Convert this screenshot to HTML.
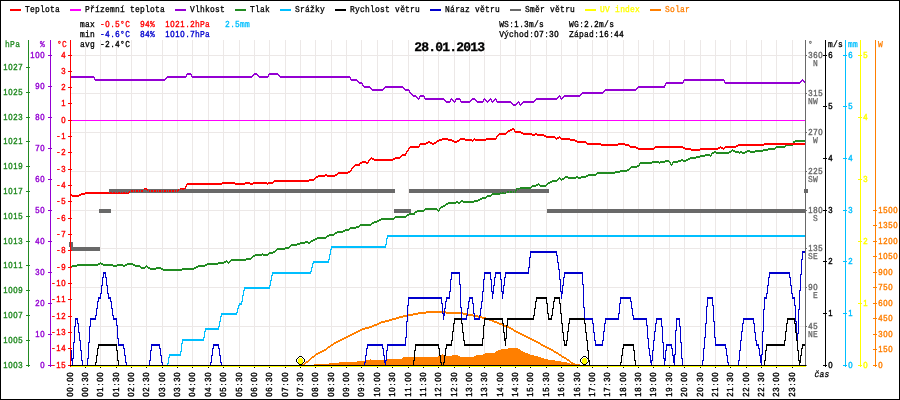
<!DOCTYPE html>
<html lang="cs">
<head>
<meta charset="utf-8">
<title>Meteostanice 28.01.2013</title>
<style>
html,body{margin:0;padding:0;background:#fff;}
body{width:900px;height:400px;overflow:hidden;}
svg{display:block;}
text{font-family:"Liberation Mono","DejaVu Sans Mono",monospace;white-space:pre;stroke-width:0.3px;shape-rendering:auto;text-rendering:geometricPrecision;}
.t{font-size:9px;}
.s{font-family:"Liberation Sans","DejaVu Sans",sans-serif;font-size:8.8px;stroke-width:0.4px;}
.h{font-size:13px;font-weight:bold;letter-spacing:-0.8px;}
</style>
</head>
<body>
<svg width="900" height="400" viewBox="0 0 900 400" shape-rendering="crispEdges" role="img" aria-label="Meteostanice - denní graf 28.01.2013">
<rect x="0" y="0" width="900" height="400" fill="#fff"/>
<g id="grid">
<rect x="85" y="40" width="1" height="326" fill="#ece8e7"/>
<rect x="100" y="40" width="1" height="326" fill="#ece8e7"/>
<rect x="116" y="40" width="1" height="326" fill="#ece8e7"/>
<rect x="131" y="40" width="1" height="326" fill="#ece8e7"/>
<rect x="146" y="40" width="1" height="326" fill="#ece8e7"/>
<rect x="162" y="40" width="1" height="326" fill="#ece8e7"/>
<rect x="177" y="40" width="1" height="326" fill="#ece8e7"/>
<rect x="192" y="40" width="1" height="326" fill="#ece8e7"/>
<rect x="208" y="40" width="1" height="326" fill="#ece8e7"/>
<rect x="223" y="40" width="1" height="326" fill="#ece8e7"/>
<rect x="239" y="40" width="1" height="326" fill="#ece8e7"/>
<rect x="254" y="40" width="1" height="326" fill="#ece8e7"/>
<rect x="269" y="40" width="1" height="326" fill="#ece8e7"/>
<rect x="285" y="40" width="1" height="326" fill="#ece8e7"/>
<rect x="300" y="40" width="1" height="326" fill="#ece8e7"/>
<rect x="315" y="40" width="1" height="326" fill="#ece8e7"/>
<rect x="331" y="40" width="1" height="326" fill="#ece8e7"/>
<rect x="346" y="40" width="1" height="326" fill="#ece8e7"/>
<rect x="361" y="40" width="1" height="326" fill="#ece8e7"/>
<rect x="377" y="40" width="1" height="326" fill="#ece8e7"/>
<rect x="392" y="40" width="1" height="326" fill="#ece8e7"/>
<rect x="408" y="40" width="1" height="326" fill="#ece8e7"/>
<rect x="423" y="40" width="1" height="326" fill="#ece8e7"/>
<rect x="438" y="40" width="1" height="326" fill="#ece8e7"/>
<rect x="454" y="40" width="1" height="326" fill="#ece8e7"/>
<rect x="469" y="40" width="1" height="326" fill="#ece8e7"/>
<rect x="484" y="40" width="1" height="326" fill="#ece8e7"/>
<rect x="500" y="40" width="1" height="326" fill="#ece8e7"/>
<rect x="515" y="40" width="1" height="326" fill="#ece8e7"/>
<rect x="530" y="40" width="1" height="326" fill="#ece8e7"/>
<rect x="546" y="40" width="1" height="326" fill="#ece8e7"/>
<rect x="561" y="40" width="1" height="326" fill="#ece8e7"/>
<rect x="577" y="40" width="1" height="326" fill="#ece8e7"/>
<rect x="592" y="40" width="1" height="326" fill="#ece8e7"/>
<rect x="607" y="40" width="1" height="326" fill="#ece8e7"/>
<rect x="623" y="40" width="1" height="326" fill="#ece8e7"/>
<rect x="638" y="40" width="1" height="326" fill="#ece8e7"/>
<rect x="653" y="40" width="1" height="326" fill="#ece8e7"/>
<rect x="669" y="40" width="1" height="326" fill="#ece8e7"/>
<rect x="684" y="40" width="1" height="326" fill="#ece8e7"/>
<rect x="700" y="40" width="1" height="326" fill="#ece8e7"/>
<rect x="715" y="40" width="1" height="326" fill="#ece8e7"/>
<rect x="730" y="40" width="1" height="326" fill="#ece8e7"/>
<rect x="746" y="40" width="1" height="326" fill="#ece8e7"/>
<rect x="761" y="40" width="1" height="326" fill="#ece8e7"/>
<rect x="776" y="40" width="1" height="326" fill="#ece8e7"/>
<rect x="792" y="40" width="1" height="326" fill="#ece8e7"/>
<rect x="70" y="326" width="737" height="1" fill="#ece8e7"/>
<rect x="70" y="287" width="737" height="1" fill="#ece8e7"/>
<rect x="70" y="248" width="737" height="1" fill="#ece8e7"/>
<rect x="70" y="210" width="737" height="1" fill="#ece8e7"/>
<rect x="70" y="171" width="737" height="1" fill="#ece8e7"/>
<rect x="70" y="132" width="737" height="1" fill="#ece8e7"/>
<rect x="70" y="93" width="737" height="1" fill="#ece8e7"/>
<rect x="70" y="55" width="737" height="1" fill="#ece8e7"/>
</g>
<g id="series">
<polygon points="314.0,365.0 314.0,364.3 328.5,364.3 328.7,363.4 339.0,363.4 339.3,362.3 356.5,362.3 356.7,361.3 364.7,360.7 370.0,359.4 374.0,360.0 383.3,360.0 386.0,359.4 400.0,359.4 402.0,359.0 403.3,357.0 437.3,357.0 440.0,355.4 442.7,354.0 445.3,356.0 450.7,356.0 453.3,355.0 457.3,355.4 460.0,356.7 473.3,357.0 476.0,355.4 482.7,354.6 485.3,353.4 493.3,353.4 497.3,350.6 501.3,349.4 506.7,349.4 509.3,348.0 512.0,347.7 516.0,347.7 518.7,349.0 522.7,351.4 526.7,353.0 530.7,354.6 536.0,356.0 540.0,357.0 545.3,359.0 550.7,360.0 556.0,360.7 562.7,361.7 568.0,362.7 572.0,364.0 581.0,364.6 581.0,365.0" fill="#ff7f00"/>
<rect x="69" y="242" width="4" height="5" fill="#696969"/>
<rect x="71" y="247" width="29" height="4" fill="#696969"/>
<rect x="99" y="209" width="12" height="4" fill="#696969"/>
<rect x="109" y="189" width="286" height="4" fill="#696969"/>
<rect x="394" y="209" width="17" height="4" fill="#696969"/>
<rect x="409" y="189" width="140" height="4" fill="#696969"/>
<rect x="547" y="209" width="258" height="4" fill="#696969"/>
<rect x="804" y="189" width="4" height="4" fill="#696969"/>
<path d="M302 364.5h3M302 365.5h2M304 363.5h2M305 362.5h3M306 361.5h3M308 360.5h2M309 359.5h2M310 358.5h2M311 357.5h3M312 356.5h3M314 355.5h2M315 354.5h3M316 353.5h4M318 352.5h4M320 351.5h4M322 350.5h4M324 349.5h3M326 348.5h2M327 347.5h3M328 346.5h3M330 345.5h3M331 344.5h3M333 343.5h3M334 342.5h4M336 341.5h4M338 340.5h4M340 339.5h4M342 338.5h4M344 337.5h4M346 336.5h4M348 335.5h4M350 334.5h4M352 333.5h4M354 332.5h4M356 331.5h4M358 330.5h4M360 329.5h5M362 328.5h7M365 327.5h7M369 326.5h5M372 325.5h5M374 324.5h5M377 323.5h4M379 322.5h6M381 321.5h8M385 320.5h7M389 319.5h7M392 318.5h7M396 317.5h7M399 316.5h9M403 315.5h10M408 314.5h10M413 313.5h13M418 312.5h45M426 311.5h20M446 313.5h22M463 314.5h10M468 315.5h10M473 316.5h9M478 317.5h8M482 318.5h7M486 319.5h6M489 320.5h5M492 321.5h5M494 322.5h5M497 323.5h5M499 324.5h5M502 325.5h5M504 326.5h5M507 327.5h4M509 328.5h4M511 329.5h3M513 330.5h3M514 331.5h4M516 332.5h4M518 333.5h4M520 334.5h4M522 335.5h4M524 336.5h4M526 337.5h4M528 338.5h4M530 339.5h4M532 340.5h4M534 341.5h4M536 342.5h4M538 343.5h3M540 344.5h3M541 345.5h4M543 346.5h4M545 347.5h4M547 348.5h4M549 349.5h4M551 350.5h3M553 351.5h3M554 352.5h4M556 353.5h3M558 354.5h3M559 355.5h3M561 356.5h3M562 357.5h4M564 358.5h3M566 359.5h3M567 360.5h3M569 361.5h2M570 362.5h3M571 363.5h4M573 364.5h3M575.5 365v1" fill="none" stroke="#ff7f00" stroke-width="1"/>
<path d="M167 363.5h2M168 357.5h2M169 354.5h12M169 355.5h12M180 351.5h2M181 343.5h2M182 339.5h22M182 340.5h22M203 337.5h2M204 331.5h2M205 328.5h14M205 329.5h14M218 326.5h2M219 321.5h2M220 316.5h2M221 313.5h16M221 314.5h16M236 312.5h2M237 308.5h2M238 305.5h2M239 303.5h3M239 304.5h3M241 301.5h2M242 295.5h2M243 290.5h2M244 287.5h26M244 288.5h26M269 285.5h2M270 280.5h2M271 275.5h2M272 272.5h39M272 273.5h39M310 271.5h2M311 267.5h2M312 263.5h2M313 261.5h16M313 262.5h16M328 259.5h2M329 254.5h2M330 249.5h2M331 246.5h55M331 247.5h55M385 244.5h2M386 238.5h2M387 235.5h419M387 236.5h419M167.5 364v3M168.5 358v5M169.5 356v1M180.5 352v2M181.5 344v7M182.5 341v2M203.5 338v1M204.5 332v5M205.5 330v1M218.5 327v1M219.5 322v4M220.5 317v4M221.5 315v1M237.5 309v3M238.5 306v2M241.5 302v1M242.5 296v5M243.5 291v4M244.5 289v1M269.5 286v1M270.5 281v4M271.5 276v4M272.5 274v1M311.5 268v3M312.5 264v3M328.5 260v1M329.5 255v4M330.5 250v4M331.5 248v1M385.5 245v1M386.5 239v5M387.5 237v1" fill="none" stroke="#00bfff" stroke-width="1"/>
<path d="M70 76.5h24M70 77.5h25M94 79.5h72M95 80.5h70M165 78.5h2M166 77.5h20M167 76.5h20M186 74.5h6M187 73.5h4M191 76.5h62M192 77.5h60M252 75.5h2M253 74.5h5M254 73.5h3M257 75.5h2M258 76.5h11M259 77.5h9M268 74.5h11M269 73.5h9M278 75.5h2M279 76.5h71M280 77.5h71M350 79.5h7M351 80.5h7M357 81.5h2M358 82.5h4M359 83.5h4M362 85.5h2M363 86.5h7M364 87.5h7M370 88.5h2M371 89.5h13M372 90.5h11M383 88.5h2M384 87.5h20M385 86.5h18M403 88.5h2M404 89.5h5M405 90.5h5M409 92.5h2M410 93.5h2M411 94.5h2M412 95.5h4M413 96.5h4M416 97.5h2M417 98.5h3M419 96.5h6M420 95.5h4M424 98.5h20M425 99.5h20M444 100.5h2M445 101.5h6M446 102.5h4M450 99.5h3M452 100.5h2M453 101.5h3M455 99.5h6M456 98.5h4M460 101.5h11M461 102.5h9M470 100.5h2M471 99.5h5M472 98.5h3M475 100.5h2M476 101.5h8M477 102.5h6M483 99.5h3M485 100.5h2M486 101.5h3M488 100.5h2M489 99.5h3M491 101.5h3M493 100.5h2M494 99.5h3M496 101.5h15M497 102.5h15M511 103.5h2M512 104.5h5M513 105.5h3M516 103.5h2M517 102.5h3M519 104.5h3M521 103.5h2M522 102.5h12M523 101.5h12M534 100.5h2M535 99.5h22M536 98.5h22M557 97.5h2M558 96.5h3M560 98.5h3M562 97.5h2M563 96.5h17M564 95.5h17M580 94.5h2M581 93.5h22M582 92.5h22M603 91.5h2M604 90.5h32M605 89.5h32M636 88.5h2M637 87.5h28M638 86.5h27M664 85.5h2M665 83.5h18M666 82.5h18M683 80.5h42M684 79.5h40M724 82.5h77M725 83.5h75M800 81.5h2M801 80.5h3M803 81.5h2M804 82.5h2M94.5 78v1M186.5 75v1M191.5 75v1M268.5 75v1M350.5 78v1M362.5 84v1M409.5 91v1M418.5 99v1M419.5 97v1M424.5 97v1M450.5 100v1M451.5 98v1M454.5 102v1M455.5 100v1M460.5 100v1M483.5 100v1M484.5 98v1M487.5 102v1M490.5 98v1M491.5 100v1M492.5 102v1M495.5 98v1M496.5 100v1M518.5 101v1M519.5 103v1M520.5 105v1M559.5 95v1M560.5 97v1M561.5 99v1M665.5 84v1M683.5 81v1M724.5 81v1M802.5 79v1M805.5 83v1" fill="none" stroke="#9400d3" stroke-width="1"/>
<rect x="70" y="120" width="736" height="1" fill="#ff00ff"/>
<path d="M70 266.5h7M70 267.5h2M72 265.5h26M77 264.5h23M98 263.5h5M101 264.5h12M103 265.5h24M113 266.5h4M117 264.5h6M123 266.5h2M125 264.5h10M127 263.5h6M133 265.5h7M135 266.5h6M140 267.5h6M141 268.5h4M145 266.5h3M147 267.5h3M148 268.5h15M150 269.5h6M156 267.5h5M161 269.5h33M163 270.5h19M182 268.5h14M194 267.5h4M196 266.5h9M198 265.5h9M205 264.5h13M207 263.5h17M218 262.5h8M224 261.5h4M227 262.5h3M229 261.5h2M230 260.5h16M231 259.5h20M246 258.5h6M251 257.5h2M252 256.5h3M253 255.5h9M255 254.5h14M263 255.5h5M268 253.5h5M269 252.5h6M273 251.5h3M275 250.5h2M276 249.5h9M277 248.5h12M285 247.5h5M289 246.5h2M290 245.5h7M291 244.5h9M297 243.5h8M300 242.5h11M305 241.5h3M308 243.5h2M310 241.5h3M311 240.5h4M313 239.5h4M315 238.5h11M317 237.5h10M326 236.5h3M327 235.5h7M329 234.5h6M334 233.5h3M335 232.5h8M337 231.5h8M343 230.5h6M345 229.5h5M349 228.5h7M350 227.5h9M356 226.5h4M359 225.5h12M360 224.5h12M371 223.5h3M372 222.5h5M374 221.5h5M377 220.5h4M379 219.5h15M381 218.5h14M394 217.5h12M395 216.5h12M406 215.5h3M407 214.5h8M409 213.5h6M414 212.5h3M415 211.5h9M417 210.5h8M424 209.5h14M425 208.5h12M437 210.5h3M439 208.5h2M440 207.5h3M441 206.5h4M443 205.5h3M445 204.5h3M446 203.5h10M448 202.5h13M456 201.5h2M458 203.5h2M460 201.5h18M461 200.5h2M463 202.5h11M474 200.5h6M478 199.5h4M480 198.5h6M482 197.5h5M486 196.5h5M487 195.5h5M491 194.5h9M492 193.5h14M500 192.5h16M506 191.5h10M515 190.5h2M516 188.5h15M516 189.5h4M520 187.5h12M531 186.5h5M532 185.5h6M536 184.5h4M539 185.5h8M540 186.5h6M546 184.5h2M547 183.5h3M548 182.5h4M550 181.5h7M552 180.5h6M557 179.5h2M558 178.5h3M560 179.5h4M562 178.5h3M564 177.5h22M565 176.5h3M568 178.5h8M576 176.5h2M578 178.5h3M581 176.5h7M586 175.5h10M588 174.5h9M596 173.5h19M597 172.5h23M615 171.5h12M620 170.5h9M627 169.5h3M629 168.5h2M630 167.5h7M631 166.5h8M637 165.5h3M639 163.5h13M640 162.5h25M652 161.5h7M660 161.5h10M665 160.5h4M669 162.5h2M670 164.5h3M672 162.5h6M673 161.5h8M678 160.5h10M681 159.5h2M683 161.5h3M686 159.5h4M688 158.5h8M690 157.5h10M696 156.5h9M700 155.5h12M705 154.5h5M711 153.5h3M712 152.5h19M714 151.5h2M716 153.5h13M729 151.5h3M731 150.5h4M733 151.5h6M735 152.5h12M740 151.5h2M742 153.5h3M745 151.5h18M747 150.5h3M750 152.5h5M755 150.5h13M763 149.5h12M768 148.5h8M775 147.5h10M776 146.5h10M785 145.5h8M786 144.5h7M792 143.5h2M793 141.5h12M793 142.5h2M795 140.5h11M100.5 262v1M146.5 265v1M226.5 260v1M228.5 263v1M262.5 253v1M438.5 211v1M439.5 209v1M538.5 183v1M559.5 177v1M561.5 180v1M639.5 164v1M659.5 163v1M670.5 163v1M671.5 165v1M672.5 163v1M710.5 156v1M711.5 154v1M732.5 149v1M739.5 153v1M805.5 139v1" fill="none" stroke="#228b22" stroke-width="1"/>
<path d="M70 194.5h2M71 195.5h10M72 196.5h7M79 194.5h6M81 193.5h48M85 192.5h45M129 191.5h14M130 190.5h14M143 189.5h5M144 188.5h3M147 190.5h33M148 191.5h30M178 189.5h7M180 188.5h6M185 186.5h2M186 184.5h36M187 183.5h86M222 182.5h13M235 184.5h10M245 182.5h5M250 184.5h3M253 182.5h14M268 182.5h6M273 181.5h36M274 180.5h40M309 179.5h6M314 178.5h2M315 177.5h3M316 176.5h9M318 175.5h19M325 174.5h2M327 176.5h8M335 174.5h3M337 173.5h11M338 172.5h12M348 171.5h3M350 170.5h2M351 168.5h2M352 167.5h2M353 166.5h2M354 165.5h6M355 164.5h5M359 163.5h3M360 162.5h9M362 161.5h4M366 163.5h2M368 160.5h2M369 159.5h2M370 158.5h4M372 159.5h23M374 160.5h19M393 158.5h7M395 157.5h6M400 156.5h2M401 155.5h5M402 154.5h4M405 153.5h2M406 151.5h2M407 150.5h2M408 148.5h2M409 147.5h10M410 146.5h10M419 144.5h7M420 143.5h8M426 142.5h6M428 141.5h2M430 143.5h6M432 144.5h2M434 142.5h3M436 141.5h3M437 140.5h5M439 139.5h13M442 138.5h6M448 140.5h6M452 141.5h7M454 142.5h3M457 140.5h3M459 139.5h13M460 138.5h5M465 140.5h9M473 139.5h23M475 140.5h11M486 138.5h11M496 136.5h2M497 135.5h2M498 134.5h8M499 133.5h8M506 132.5h2M507 131.5h3M508 130.5h4M510 129.5h5M512 128.5h2M514 131.5h7M515 132.5h8M521 133.5h11M523 134.5h21M532 135.5h3M535 133.5h2M537 135.5h9M544 136.5h11M546 137.5h10M555 138.5h4M557 137.5h4M560 138.5h10M561 139.5h14M570 140.5h7M575 141.5h11M577 142.5h10M586 143.5h15M587 144.5h42M601 145.5h17M618 143.5h7M625 145.5h5M629 146.5h7M630 147.5h8M636 148.5h19M638 149.5h16M654 147.5h31M655 146.5h28M683 148.5h8M685 149.5h33M691 150.5h9M700 148.5h20M718 147.5h5M721 148.5h4M724 147.5h12M725 146.5h13M736 145.5h28M738 144.5h68M764 143.5h42M70.5 193v1M185.5 187v1M186.5 185v1M267.5 184v1M351.5 169v1M368.5 161v1M371.5 157v1M406.5 152v1M408.5 149v1M419.5 145v1M472.5 141v1M474.5 138v1M496.5 137v1M514.5 130v1M556.5 139v1M559.5 136v1M720.5 146v1M723.5 149v1" fill="none" stroke="#ff0000" stroke-width="1"/>
<path d="M69.5 243v4M71.5 247v4M74.5 247v4M76.5 247v4M79.5 247v4M81.5 247v4M84.5 247v4M86.5 247v4M89.5 247v4M92.5 247v4M94.5 247v4M97.5 247v4M99.5 209v4M102.5 209v4M104.5 209v4M107.5 209v4M109.5 189v4M112.5 189v4M115.5 189v4M117.5 189v4M120.5 189v4M122.5 189v4M125.5 189v4M127.5 189v4M130.5 189v4M133.5 189v4M135.5 189v4M138.5 189v4M140.5 189v4M143.5 189v4M145.5 189v4M148.5 189v4M150.5 189v4M153.5 189v4M156.5 189v4M158.5 189v4M161.5 189v4M163.5 189v4M166.5 189v4M168.5 189v4M171.5 189v4M174.5 189v4M176.5 189v4M179.5 189v4M181.5 189v4M184.5 189v4M186.5 189v4M189.5 189v4M191.5 189v4M194.5 189v4M197.5 189v4M199.5 189v4M202.5 189v4M204.5 189v4M207.5 189v4M209.5 189v4M212.5 189v4M214.5 189v4M217.5 189v4M220.5 189v4M222.5 189v4M225.5 189v4M227.5 189v4M230.5 189v4M232.5 189v4M235.5 189v4M238.5 189v4M240.5 189v4M243.5 189v4M245.5 189v4M248.5 189v4M250.5 189v4M253.5 189v4M255.5 189v4M258.5 189v4M261.5 189v4M263.5 189v4M266.5 189v4M268.5 189v4M271.5 189v4M273.5 189v4M276.5 189v4M279.5 189v4M281.5 189v4M284.5 189v4M286.5 189v4M289.5 189v4M291.5 189v4M294.5 189v4M296.5 189v4M299.5 189v4M302.5 189v4M304.5 189v4M307.5 189v4M309.5 189v4M312.5 189v4M314.5 189v4M317.5 189v4M319.5 189v4M322.5 189v4M325.5 189v4M327.5 189v4M330.5 189v4M332.5 189v4M335.5 189v4M337.5 189v4M340.5 189v4M343.5 189v4M345.5 189v4M348.5 189v4M350.5 189v4M353.5 189v4M355.5 189v4M358.5 189v4M360.5 189v4M363.5 189v4M366.5 189v4M368.5 189v4M371.5 189v4M373.5 189v4M376.5 189v4M378.5 189v4M381.5 189v4M384.5 189v4M386.5 189v4M389.5 189v4M391.5 189v4M394.5 209v4M396.5 209v4M399.5 209v4M401.5 209v4M404.5 209v4M407.5 209v4M409.5 189v4M412.5 189v4M414.5 189v4M417.5 189v4M419.5 189v4M422.5 189v4M424.5 189v4M427.5 189v4M430.5 189v4M432.5 189v4M435.5 189v4M437.5 189v4M440.5 189v4M442.5 189v4M445.5 189v4M448.5 189v4M450.5 189v4M453.5 189v4M455.5 189v4M458.5 189v4M460.5 189v4M463.5 189v4M465.5 189v4M468.5 189v4M471.5 189v4M473.5 189v4M476.5 189v4M478.5 189v4M481.5 189v4M483.5 189v4M486.5 189v4M489.5 189v4M491.5 189v4M494.5 189v4M496.5 189v4M499.5 189v4M501.5 189v4M504.5 189v4M506.5 189v4M509.5 189v4M512.5 189v4M514.5 189v4M517.5 189v4M519.5 189v4M522.5 189v4M524.5 189v4M527.5 189v4M529.5 189v4M532.5 189v4M535.5 189v4M537.5 189v4M540.5 189v4M542.5 189v4M545.5 189v4M547.5 209v4M550.5 209v4M553.5 209v4M555.5 209v4M558.5 209v4M560.5 209v4M563.5 209v4M565.5 209v4M568.5 209v4M570.5 209v4M573.5 209v4M576.5 209v4M578.5 209v4M581.5 209v4M583.5 209v4M586.5 209v4M588.5 209v4M591.5 209v4M594.5 209v4M596.5 209v4M599.5 209v4M601.5 209v4M604.5 209v4M606.5 209v4M609.5 209v4M611.5 209v4M614.5 209v4M617.5 209v4M619.5 209v4M622.5 209v4M624.5 209v4M627.5 209v4M629.5 209v4M632.5 209v4M634.5 209v4M637.5 209v4M640.5 209v4M642.5 209v4M645.5 209v4M647.5 209v4M650.5 209v4M652.5 209v4M655.5 209v4M658.5 209v4M660.5 209v4M663.5 209v4M665.5 209v4M668.5 209v4M670.5 209v4M673.5 209v4M675.5 209v4M678.5 209v4M681.5 209v4M683.5 209v4M686.5 209v4M688.5 209v4M691.5 209v4M693.5 209v4M696.5 209v4M699.5 209v4M701.5 209v4M704.5 209v4M706.5 209v4M709.5 209v4M711.5 209v4M714.5 209v4M716.5 209v4M719.5 209v4M722.5 209v4M724.5 209v4M727.5 209v4M729.5 209v4M732.5 209v4M734.5 209v4M737.5 209v4M739.5 209v4M742.5 209v4M745.5 209v4M747.5 209v4M750.5 209v4M752.5 209v4M755.5 209v4M757.5 209v4M760.5 209v4M763.5 209v4M765.5 209v4M768.5 209v4M770.5 209v4M773.5 209v4M775.5 209v4M778.5 209v4M780.5 209v4M783.5 209v4M786.5 209v4M788.5 209v4M791.5 209v4M793.5 209v4M796.5 209v4M798.5 209v4M801.5 209v4M804.5 189v4" fill="none" stroke="#696969" stroke-width="1"/>
<path d="M70 350.5h2M71 358.5h3M71 359.5h2M71 360.5h2M73 342.5h2M74 326.5h2M75 318.5h3M75 319.5h3M77 323.5h2M78 332.5h2M79 340.5h2M80 350.5h2M81 360.5h2M82 365.5h6M82 366.5h6M87 358.5h2M88 342.5h2M89 326.5h2M90 318.5h6M90 319.5h6M95 315.5h2M96 308.5h2M97 301.5h2M98 297.5h3M98 298.5h3M100 293.5h2M101 285.5h2M102 277.5h2M103 272.5h3M103 273.5h3M105 277.5h2M106 285.5h2M107 293.5h2M108 297.5h3M108 298.5h3M110 301.5h2M111 308.5h2M112 315.5h2M113 318.5h4M113 319.5h4M116 325.5h2M117 338.5h2M118 344.5h6M118 345.5h6M123 348.5h2M124 355.5h2M125 362.5h2M126 365.5h24M126 366.5h24M149 360.5h2M150 350.5h2M151 344.5h9M151 345.5h9M159 348.5h2M160 355.5h2M161 362.5h2M162 365.5h49M162 366.5h49M210 362.5h2M211 355.5h2M212 348.5h2M213 344.5h6M213 345.5h6M218 348.5h2M219 355.5h2M220 362.5h2M221 365.5h144M221 366.5h144M364 362.5h2M365 355.5h2M366 348.5h2M367 344.5h16M367 345.5h16M382 348.5h2M383 355.5h2M384 360.5h3M384 361.5h2M384 362.5h2M386 350.5h2M387 344.5h19M387 345.5h19M405 337.5h2M406 321.5h2M407 305.5h2M408 297.5h34M408 298.5h34M441 303.5h2M442 313.5h3M443 314.5h2M443 315.5h2M444 308.5h2M445 301.5h2M446 297.5h4M446 298.5h4M449 291.5h2M450 279.5h2M451 272.5h9M451 273.5h9M459 284.5h2M460 307.5h2M461 318.5h6M461 319.5h6M466 315.5h2M467 308.5h2M468 301.5h2M469 297.5h4M469 298.5h4M472 303.5h2M473 313.5h2M474 318.5h6M474 319.5h6M479 315.5h2M480 308.5h2M481 301.5h2M482 291.5h2M483 279.5h2M484 272.5h7M484 273.5h7M490 279.5h2M491 291.5h3M492 292.5h2M492 293.5h2M493 285.5h2M494 277.5h2M495 272.5h6M495 273.5h6M500 279.5h2M501 291.5h3M502 292.5h2M502 293.5h2M503 285.5h2M504 277.5h2M505 272.5h24M505 273.5h24M528 267.5h2M529 257.5h2M530 251.5h27M530 252.5h27M556 255.5h2M557 262.5h2M558 269.5h2M559 279.5h2M560 291.5h3M561 292.5h2M561 293.5h2M562 285.5h2M563 277.5h2M564 272.5h19M564 273.5h19M582 284.5h2M583 307.5h2M584 318.5h9M584 319.5h9M592 323.5h2M593 332.5h2M594 340.5h2M595 344.5h8M595 345.5h8M602 340.5h2M603 331.5h2M604 323.5h2M605 318.5h14M605 319.5h14M618 313.5h2M619 303.5h2M620 297.5h11M620 298.5h11M630 301.5h2M631 308.5h2M632 315.5h2M633 318.5h14M633 319.5h14M646 325.5h2M647 338.5h2M648 348.5h2M649 355.5h2M650 360.5h3M650 361.5h2M650 362.5h2M652 350.5h2M653 340.5h2M654 331.5h2M655 323.5h2M656 318.5h6M656 319.5h6M661 326.5h2M662 342.5h2M663 358.5h3M664 359.5h2M664 360.5h2M665 350.5h2M666 344.5h6M666 345.5h6M671 348.5h2M672 355.5h3M673 356.5h2M673 357.5h2M673 358.5h2M673 359.5h2M673 360.5h2M673 361.5h2M673 362.5h2M674 354.5h2M675 330.5h2M676 318.5h4M676 319.5h4M679 326.5h2M680 342.5h2M681 358.5h2M682 365.5h21M682 366.5h21M702 360.5h2M703 348.5h2M704 337.5h2M705 323.5h2M706 306.5h2M707 297.5h6M707 298.5h6M712 305.5h2M713 321.5h2M714 337.5h2M715 344.5h11M715 345.5h11M725 348.5h2M726 355.5h2M727 362.5h2M728 365.5h11M728 366.5h11M738 360.5h2M739 350.5h2M740 340.5h2M741 331.5h2M742 323.5h2M743 318.5h11M743 319.5h11M753 323.5h2M754 332.5h2M755 340.5h2M756 344.5h3M756 345.5h3M758 348.5h2M759 355.5h3M760 356.5h2M760 357.5h2M760 358.5h2M760 359.5h2M760 360.5h2M760 361.5h2M760 362.5h2M761 354.5h2M762 331.5h2M763 309.5h2M764 297.5h3M764 298.5h3M766 293.5h2M767 285.5h2M768 277.5h2M769 272.5h21M769 273.5h21M789 277.5h2M790 285.5h2M791 293.5h2M792 297.5h3M792 298.5h3M794 305.5h2M795 321.5h2M796 333.5h3M796 334.5h2M796 335.5h2M796 336.5h2M796 337.5h2M798 309.5h2M799 290.5h2M800 274.5h2M801 259.5h2M802 251.5h4M802 252.5h4M70.5 344v6M71.5 351v7M72.5 361v6M73.5 343v15M74.5 327v15M75.5 320v6M77.5 320v3M78.5 324v8M79.5 333v7M80.5 341v9M81.5 351v9M82.5 361v4M87.5 359v6M88.5 343v15M89.5 327v15M90.5 320v6M95.5 316v2M96.5 309v6M97.5 302v6M98.5 299v2M100.5 294v3M101.5 286v7M102.5 278v7M103.5 274v3M105.5 274v3M106.5 278v7M107.5 286v7M108.5 294v3M110.5 299v2M111.5 302v6M112.5 309v6M113.5 316v2M116.5 320v5M117.5 326v12M118.5 339v5M123.5 346v2M124.5 349v6M125.5 356v6M126.5 363v2M149.5 361v4M150.5 351v9M151.5 346v4M159.5 346v2M160.5 349v6M161.5 356v6M162.5 363v2M210.5 363v2M211.5 356v6M212.5 349v6M213.5 346v2M218.5 346v2M219.5 349v6M220.5 356v6M221.5 363v2M364.5 363v2M365.5 356v6M366.5 349v6M367.5 346v2M382.5 346v2M383.5 349v6M384.5 356v4M385.5 363v4M386.5 351v9M387.5 346v4M405.5 338v6M406.5 322v15M407.5 306v15M408.5 299v6M441.5 299v4M442.5 304v9M443.5 316v4M444.5 309v4M445.5 302v6M446.5 299v2M449.5 292v5M450.5 280v11M451.5 274v5M459.5 274v10M460.5 285v22M461.5 308v10M466.5 316v2M467.5 309v6M468.5 302v6M469.5 299v2M472.5 299v4M473.5 304v9M474.5 314v4M479.5 316v2M480.5 309v6M481.5 302v6M482.5 292v9M483.5 280v11M484.5 274v5M490.5 274v5M491.5 280v11M492.5 294v5M493.5 286v5M494.5 278v7M495.5 274v3M500.5 274v5M501.5 280v11M502.5 294v5M503.5 286v5M504.5 278v7M505.5 274v3M528.5 268v4M529.5 258v9M530.5 253v4M556.5 253v2M557.5 256v6M558.5 263v6M559.5 270v9M560.5 280v11M561.5 294v5M562.5 286v5M563.5 278v7M564.5 274v3M582.5 274v10M583.5 285v22M584.5 308v10M592.5 320v3M593.5 324v8M594.5 333v7M595.5 341v3M602.5 341v3M603.5 332v8M604.5 324v7M605.5 320v3M618.5 314v4M619.5 304v9M620.5 299v4M630.5 299v2M631.5 302v6M632.5 309v6M633.5 316v2M646.5 320v5M647.5 326v12M648.5 339v9M649.5 349v6M650.5 356v4M651.5 363v4M652.5 351v9M653.5 341v9M654.5 332v8M655.5 324v7M656.5 320v3M661.5 320v6M662.5 327v15M663.5 343v15M664.5 361v6M665.5 351v7M666.5 346v4M671.5 346v2M672.5 349v6M674.5 363v4M675.5 331v23M676.5 320v10M679.5 320v6M680.5 327v15M681.5 343v15M682.5 359v6M702.5 361v4M703.5 349v11M704.5 338v10M705.5 324v13M706.5 307v16M707.5 299v7M712.5 299v6M713.5 306v15M714.5 322v15M715.5 338v6M725.5 346v2M726.5 349v6M727.5 356v6M728.5 363v2M738.5 361v4M739.5 351v9M740.5 341v9M741.5 332v8M742.5 324v7M743.5 320v3M753.5 320v3M754.5 324v8M755.5 333v7M756.5 341v3M758.5 346v2M759.5 349v6M761.5 363v4M762.5 332v22M763.5 310v21M764.5 299v10M766.5 294v3M767.5 286v7M768.5 278v7M769.5 274v3M789.5 274v3M790.5 278v7M791.5 286v7M792.5 294v3M794.5 299v6M795.5 306v15M796.5 322v11M797.5 338v8M798.5 310v23M799.5 291v18M800.5 275v15M801.5 260v14M802.5 253v6" fill="none" stroke="#0000cd" stroke-width="1"/>
<path d="M70 365.5h26M70 366.5h26M95 362.5h2M96 355.5h2M97 348.5h2M98 344.5h19M98 345.5h19M116 350.5h2M117 360.5h2M118 365.5h296M118 366.5h296M413 360.5h2M414 350.5h2M415 344.5h24M415 345.5h24M438 348.5h2M439 355.5h2M440 362.5h2M441 365.5h3M441 366.5h3M443 362.5h2M444 355.5h2M445 348.5h2M446 344.5h6M446 345.5h6M451 340.5h2M452 331.5h2M453 323.5h2M454 318.5h8M454 319.5h8M461 323.5h2M462 332.5h2M463 340.5h2M464 344.5h19M464 345.5h19M482 338.5h2M483 325.5h2M484 318.5h19M484 319.5h19M502 323.5h2M503 332.5h2M504 338.5h3M504 339.5h2M504 340.5h2M506 325.5h2M507 318.5h27M507 319.5h27M533 315.5h2M534 308.5h2M535 301.5h2M536 297.5h11M536 298.5h11M546 303.5h2M547 313.5h2M548 318.5h4M548 319.5h4M551 315.5h2M552 308.5h2M553 301.5h2M554 297.5h6M554 298.5h6M559 303.5h2M560 313.5h2M561 323.5h2M562 332.5h2M563 340.5h2M564 344.5h3M564 345.5h3M566 340.5h2M567 331.5h2M568 323.5h2M569 318.5h16M569 319.5h16M584 323.5h2M585 332.5h2M586 340.5h2M587 350.5h2M588 360.5h2M589 365.5h32M589 366.5h32M620 362.5h2M621 355.5h2M622 348.5h2M623 344.5h11M623 345.5h11M633 350.5h2M634 360.5h2M635 365.5h130M635 366.5h130M764 360.5h2M765 350.5h2M766 344.5h19M766 345.5h19M784 340.5h2M785 331.5h2M786 323.5h2M787 318.5h8M787 319.5h8M794 323.5h2M795 332.5h2M796 340.5h2M797 350.5h2M798 360.5h3M799 361.5h2M799 362.5h2M800 355.5h2M801 348.5h2M802 344.5h4M802 345.5h4M95.5 363v2M96.5 356v6M97.5 349v6M98.5 346v2M116.5 346v4M117.5 351v9M118.5 361v4M413.5 361v4M414.5 351v9M415.5 346v4M438.5 346v2M439.5 349v6M440.5 356v6M441.5 363v2M443.5 363v2M444.5 356v6M445.5 349v6M446.5 346v2M451.5 341v3M452.5 332v8M453.5 324v7M454.5 320v3M461.5 320v3M462.5 324v8M463.5 333v7M464.5 341v3M482.5 339v5M483.5 326v12M484.5 320v5M502.5 320v3M503.5 324v8M504.5 333v5M505.5 341v5M506.5 326v12M507.5 320v5M533.5 316v2M534.5 309v6M535.5 302v6M536.5 299v2M546.5 299v4M547.5 304v9M548.5 314v4M551.5 316v2M552.5 309v6M553.5 302v6M554.5 299v2M559.5 299v4M560.5 304v9M561.5 314v9M562.5 324v8M563.5 333v7M564.5 341v3M566.5 341v3M567.5 332v8M568.5 324v7M569.5 320v3M584.5 320v3M585.5 324v8M586.5 333v7M587.5 341v9M588.5 351v9M589.5 361v4M620.5 363v2M621.5 356v6M622.5 349v6M623.5 346v2M633.5 346v4M634.5 351v9M635.5 361v4M764.5 361v4M765.5 351v9M766.5 346v4M784.5 341v3M785.5 332v8M786.5 324v7M787.5 320v3M794.5 320v3M795.5 324v8M796.5 333v7M797.5 341v9M798.5 351v9M799.5 363v4M800.5 356v4M801.5 349v6M802.5 346v2" fill="none" stroke="#000000" stroke-width="1"/>
<rect x="70" y="365" width="736" height="2" fill="#ffff00"/>
<path d="M299 357.5h3M298 358.5h5M297 359.5h7M297 360.5h7M297 361.5h7M298 362.5h5M299 363.5h3" fill="none" stroke="#ffffff" stroke-width="1"/>
<path d="M299 358.5h3M298 359.5h5M298 360.5h5M298 361.5h5M298 362.5h5M299 363.5h3" fill="none" stroke="#ffff00" stroke-width="1"/>
<path d="M299 356.5h3M298 357.5h1M302 357.5h1M297 358.5h1M303 358.5h1M296 359.5h1M304 359.5h1M296 360.5h1M304 360.5h1M296 361.5h1M304 361.5h1M297 362.5h1M303 362.5h1M298 363.5h1M302 363.5h1M299 364.5h3" fill="none" stroke="#000000" stroke-width="1"/>
<path d="M583 357.5h3M582 358.5h5M581 359.5h7M581 360.5h7M581 361.5h7M582 362.5h5M583 363.5h3" fill="none" stroke="#ffffff" stroke-width="1"/>
<path d="M583 358.5h3M582 359.5h5M582 360.5h5M582 361.5h5M582 362.5h5M583 363.5h3" fill="none" stroke="#ffff00" stroke-width="1"/>
<path d="M583 356.5h3M582 357.5h1M586 357.5h1M581 358.5h1M587 358.5h1M580 359.5h1M588 359.5h1M580 360.5h1M588 360.5h1M580 361.5h1M588 361.5h1M581 362.5h1M587 362.5h1M582 363.5h1M586 363.5h1M583 364.5h3" fill="none" stroke="#000000" stroke-width="1"/>
</g>
<g id="axes">
<rect x="28" y="40" width="1" height="327" fill="#228b22"/>
<rect x="26" y="67" width="4" height="1" fill="#228b22"/>
<text class="t" transform="scale(0.88,1)" y="70" fill="#228b22" stroke="#228b22"><tspan class="s" x="3.8 9.49 15.17 20.85">1027</tspan></text>
<rect x="26" y="92" width="4" height="1" fill="#228b22"/>
<text class="t" transform="scale(0.88,1)" y="95" fill="#228b22" stroke="#228b22"><tspan class="s" x="3.8 9.49 15.17 20.85">1025</tspan></text>
<rect x="26" y="117" width="4" height="1" fill="#228b22"/>
<text class="t" transform="scale(0.88,1)" y="120" fill="#228b22" stroke="#228b22"><tspan class="s" x="3.8 9.49 15.17 20.85">1023</tspan></text>
<rect x="26" y="141" width="4" height="1" fill="#228b22"/>
<text class="t" transform="scale(0.88,1)" y="144" fill="#228b22" stroke="#228b22"><tspan class="s" x="3.8 9.49 15.17 20.85">1021</tspan></text>
<rect x="26" y="166" width="4" height="1" fill="#228b22"/>
<text class="t" transform="scale(0.88,1)" y="169" fill="#228b22" stroke="#228b22"><tspan class="s" x="3.8 9.49 15.17 20.85">1019</tspan></text>
<rect x="26" y="191" width="4" height="1" fill="#228b22"/>
<text class="t" transform="scale(0.88,1)" y="194" fill="#228b22" stroke="#228b22"><tspan class="s" x="3.8 9.49 15.17 20.85">1017</tspan></text>
<rect x="26" y="216" width="4" height="1" fill="#228b22"/>
<text class="t" transform="scale(0.88,1)" y="219" fill="#228b22" stroke="#228b22"><tspan class="s" x="3.8 9.49 15.17 20.85">1015</tspan></text>
<rect x="26" y="241" width="4" height="1" fill="#228b22"/>
<text class="t" transform="scale(0.88,1)" y="244" fill="#228b22" stroke="#228b22"><tspan class="s" x="3.8 9.49 15.17 20.85">1013</tspan></text>
<rect x="26" y="265" width="4" height="1" fill="#228b22"/>
<text class="t" transform="scale(0.88,1)" y="268" fill="#228b22" stroke="#228b22"><tspan class="s" x="3.8 9.49 15.17 20.85">1011</tspan></text>
<rect x="26" y="290" width="4" height="1" fill="#228b22"/>
<text class="t" transform="scale(0.88,1)" y="293" fill="#228b22" stroke="#228b22"><tspan class="s" x="3.8 9.49 15.17 20.85">1009</tspan></text>
<rect x="26" y="315" width="4" height="1" fill="#228b22"/>
<text class="t" transform="scale(0.88,1)" y="318" fill="#228b22" stroke="#228b22"><tspan class="s" x="3.8 9.49 15.17 20.85">1007</tspan></text>
<rect x="26" y="340" width="4" height="1" fill="#228b22"/>
<text class="t" transform="scale(0.88,1)" y="343" fill="#228b22" stroke="#228b22"><tspan class="s" x="3.8 9.49 15.17 20.85">1005</tspan></text>
<rect x="26" y="365" width="4" height="1" fill="#228b22"/>
<text class="t" transform="scale(0.88,1)" y="368" fill="#228b22" stroke="#228b22"><tspan class="s" x="3.8 9.49 15.17 20.85">1003</tspan></text>
<text class="t" transform="scale(0.88,1)" y="47" fill="#228b22" stroke="#228b22"><tspan class="m" x="5.82 11.5 17.19">hPa</tspan></text>
<rect x="50" y="40" width="1" height="327" fill="#9400d3"/>
<rect x="48" y="55" width="4" height="1" fill="#9400d3"/>
<text class="t" transform="scale(0.88,1)" y="58" fill="#9400d3" stroke="#9400d3"><tspan class="s" x="34.49 40.17 45.85">100</tspan></text>
<rect x="48" y="86" width="4" height="1" fill="#9400d3"/>
<text class="t" transform="scale(0.88,1)" y="89" fill="#9400d3" stroke="#9400d3"><tspan class="s" x="40.17 45.85">90</tspan></text>
<rect x="48" y="117" width="4" height="1" fill="#9400d3"/>
<text class="t" transform="scale(0.88,1)" y="120" fill="#9400d3" stroke="#9400d3"><tspan class="s" x="40.17 45.85">80</tspan></text>
<rect x="48" y="148" width="4" height="1" fill="#9400d3"/>
<text class="t" transform="scale(0.88,1)" y="151" fill="#9400d3" stroke="#9400d3"><tspan class="s" x="40.17 45.85">70</tspan></text>
<rect x="48" y="179" width="4" height="1" fill="#9400d3"/>
<text class="t" transform="scale(0.88,1)" y="182" fill="#9400d3" stroke="#9400d3"><tspan class="s" x="40.17 45.85">60</tspan></text>
<rect x="48" y="210" width="4" height="1" fill="#9400d3"/>
<text class="t" transform="scale(0.88,1)" y="213" fill="#9400d3" stroke="#9400d3"><tspan class="s" x="40.17 45.85">50</tspan></text>
<rect x="48" y="241" width="4" height="1" fill="#9400d3"/>
<text class="t" transform="scale(0.88,1)" y="244" fill="#9400d3" stroke="#9400d3"><tspan class="s" x="40.17 45.85">40</tspan></text>
<rect x="48" y="272" width="4" height="1" fill="#9400d3"/>
<text class="t" transform="scale(0.88,1)" y="275" fill="#9400d3" stroke="#9400d3"><tspan class="s" x="40.17 45.85">30</tspan></text>
<rect x="48" y="303" width="4" height="1" fill="#9400d3"/>
<text class="t" transform="scale(0.88,1)" y="306" fill="#9400d3" stroke="#9400d3"><tspan class="s" x="40.17 45.85">20</tspan></text>
<rect x="48" y="334" width="4" height="1" fill="#9400d3"/>
<text class="t" transform="scale(0.88,1)" y="337" fill="#9400d3" stroke="#9400d3"><tspan class="s" x="40.17 45.85">10</tspan></text>
<rect x="48" y="365" width="4" height="1" fill="#9400d3"/>
<text class="t" transform="scale(0.88,1)" y="368" fill="#9400d3" stroke="#9400d3"><tspan class="s" x="45.85">0</tspan></text>
<text class="t" transform="scale(0.88,1)" y="47" fill="#9400d3" stroke="#9400d3"><tspan class="m" x="45.6">%</tspan></text>
<rect x="70" y="40" width="1" height="327" fill="#ff0000"/>
<rect x="68" y="55" width="4" height="1" fill="#ff0000"/>
<text class="t" transform="scale(0.88,1)" y="58" fill="#ff0000" stroke="#ff0000"><tspan class="s" x="69.71">4</tspan></text>
<rect x="68" y="71" width="4" height="1" fill="#ff0000"/>
<text class="t" transform="scale(0.88,1)" y="74" fill="#ff0000" stroke="#ff0000"><tspan class="s" x="69.71">3</tspan></text>
<rect x="68" y="87" width="4" height="1" fill="#ff0000"/>
<text class="t" transform="scale(0.88,1)" y="90" fill="#ff0000" stroke="#ff0000"><tspan class="s" x="69.71">2</tspan></text>
<rect x="68" y="103" width="4" height="1" fill="#ff0000"/>
<text class="t" transform="scale(0.88,1)" y="106" fill="#ff0000" stroke="#ff0000"><tspan class="s" x="69.71">1</tspan></text>
<rect x="68" y="120" width="4" height="1" fill="#ff0000"/>
<text class="t" transform="scale(0.88,1)" y="123" fill="#ff0000" stroke="#ff0000"><tspan class="s" x="69.71">0</tspan></text>
<rect x="68" y="136" width="4" height="1" fill="#ff0000"/>
<text class="t" transform="scale(0.88,1)" y="139" fill="#ff0000" stroke="#ff0000"><tspan class="m" x="63.78">-</tspan><tspan class="s" x="69.71">1</tspan></text>
<rect x="68" y="152" width="4" height="1" fill="#ff0000"/>
<text class="t" transform="scale(0.88,1)" y="155" fill="#ff0000" stroke="#ff0000"><tspan class="m" x="63.78">-</tspan><tspan class="s" x="69.71">2</tspan></text>
<rect x="68" y="169" width="4" height="1" fill="#ff0000"/>
<text class="t" transform="scale(0.88,1)" y="172" fill="#ff0000" stroke="#ff0000"><tspan class="m" x="63.78">-</tspan><tspan class="s" x="69.71">3</tspan></text>
<rect x="68" y="185" width="4" height="1" fill="#ff0000"/>
<text class="t" transform="scale(0.88,1)" y="188" fill="#ff0000" stroke="#ff0000"><tspan class="m" x="63.78">-</tspan><tspan class="s" x="69.71">4</tspan></text>
<rect x="68" y="201" width="4" height="1" fill="#ff0000"/>
<text class="t" transform="scale(0.88,1)" y="204" fill="#ff0000" stroke="#ff0000"><tspan class="m" x="63.78">-</tspan><tspan class="s" x="69.71">5</tspan></text>
<rect x="68" y="218" width="4" height="1" fill="#ff0000"/>
<text class="t" transform="scale(0.88,1)" y="221" fill="#ff0000" stroke="#ff0000"><tspan class="m" x="63.78">-</tspan><tspan class="s" x="69.71">6</tspan></text>
<rect x="68" y="234" width="4" height="1" fill="#ff0000"/>
<text class="t" transform="scale(0.88,1)" y="237" fill="#ff0000" stroke="#ff0000"><tspan class="m" x="63.78">-</tspan><tspan class="s" x="69.71">7</tspan></text>
<rect x="68" y="250" width="4" height="1" fill="#ff0000"/>
<text class="t" transform="scale(0.88,1)" y="253" fill="#ff0000" stroke="#ff0000"><tspan class="m" x="63.78">-</tspan><tspan class="s" x="69.71">8</tspan></text>
<rect x="68" y="267" width="4" height="1" fill="#ff0000"/>
<text class="t" transform="scale(0.88,1)" y="270" fill="#ff0000" stroke="#ff0000"><tspan class="m" x="63.78">-</tspan><tspan class="s" x="69.71">9</tspan></text>
<rect x="68" y="283" width="4" height="1" fill="#ff0000"/>
<text class="t" transform="scale(0.88,1)" y="286" fill="#ff0000" stroke="#ff0000"><tspan class="m" x="58.1">-</tspan><tspan class="s" x="64.03 69.71">10</tspan></text>
<rect x="68" y="299" width="4" height="1" fill="#ff0000"/>
<text class="t" transform="scale(0.88,1)" y="302" fill="#ff0000" stroke="#ff0000"><tspan class="m" x="58.1">-</tspan><tspan class="s" x="64.03 69.71">11</tspan></text>
<rect x="68" y="316" width="4" height="1" fill="#ff0000"/>
<text class="t" transform="scale(0.88,1)" y="319" fill="#ff0000" stroke="#ff0000"><tspan class="m" x="58.1">-</tspan><tspan class="s" x="64.03 69.71">12</tspan></text>
<rect x="68" y="332" width="4" height="1" fill="#ff0000"/>
<text class="t" transform="scale(0.88,1)" y="335" fill="#ff0000" stroke="#ff0000"><tspan class="m" x="58.1">-</tspan><tspan class="s" x="64.03 69.71">13</tspan></text>
<rect x="68" y="348" width="4" height="1" fill="#ff0000"/>
<text class="t" transform="scale(0.88,1)" y="351" fill="#ff0000" stroke="#ff0000"><tspan class="m" x="58.1">-</tspan><tspan class="s" x="64.03 69.71">14</tspan></text>
<rect x="68" y="365" width="4" height="1" fill="#ff0000"/>
<text class="t" transform="scale(0.88,1)" y="368" fill="#ff0000" stroke="#ff0000"><tspan class="m" x="58.1">-</tspan><tspan class="s" x="64.03 69.71">15</tspan></text>
<text class="t" transform="scale(0.88,1)" y="47" fill="#ff0000" stroke="#ff0000"><tspan class="m" x="64.91 70.6">°C</tspan></text>
<rect x="805" y="40" width="1" height="326" fill="#696969"/>
<rect x="806" y="365" width="1" height="1" fill="#696969"/>
<rect x="806" y="326" width="1" height="1" fill="#696969"/>
<text class="t" transform="scale(0.88,1)" y="329" fill="#696969" stroke="#696969"><tspan class="s" x="918.58 924.26">45</tspan></text>
<text class="t" transform="scale(0.88,1)" y="337" fill="#696969" stroke="#696969"><tspan class="m" x="918.32 924">NE</tspan></text>
<rect x="806" y="287" width="1" height="1" fill="#696969"/>
<text class="t" transform="scale(0.88,1)" y="290" fill="#696969" stroke="#696969"><tspan class="s" x="918.58 924.26">90</tspan></text>
<text class="t" transform="scale(0.88,1)" y="298" fill="#696969" stroke="#696969"><tspan class="m" x="924">E</tspan></text>
<rect x="806" y="248" width="1" height="1" fill="#696969"/>
<text class="t" transform="scale(0.88,1)" y="251" fill="#696969" stroke="#696969"><tspan class="s" x="918.58 924.26 929.94">135</tspan></text>
<text class="t" transform="scale(0.88,1)" y="259" fill="#696969" stroke="#696969"><tspan class="m" x="918.32 924">SE</tspan></text>
<rect x="806" y="210" width="1" height="1" fill="#696969"/>
<text class="t" transform="scale(0.88,1)" y="213" fill="#696969" stroke="#696969"><tspan class="s" x="918.58 924.26 929.94">180</tspan></text>
<text class="t" transform="scale(0.88,1)" y="221" fill="#696969" stroke="#696969"><tspan class="m" x="924">S</tspan></text>
<rect x="806" y="171" width="1" height="1" fill="#696969"/>
<text class="t" transform="scale(0.88,1)" y="174" fill="#696969" stroke="#696969"><tspan class="s" x="918.58 924.26 929.94">225</tspan></text>
<text class="t" transform="scale(0.88,1)" y="182" fill="#696969" stroke="#696969"><tspan class="m" x="918.32 924">SW</tspan></text>
<rect x="806" y="132" width="1" height="1" fill="#696969"/>
<text class="t" transform="scale(0.88,1)" y="135" fill="#696969" stroke="#696969"><tspan class="s" x="918.58 924.26 929.94">270</tspan></text>
<text class="t" transform="scale(0.88,1)" y="143" fill="#696969" stroke="#696969"><tspan class="m" x="924">W</tspan></text>
<rect x="806" y="93" width="1" height="1" fill="#696969"/>
<text class="t" transform="scale(0.88,1)" y="96" fill="#696969" stroke="#696969"><tspan class="s" x="918.58 924.26 929.94">315</tspan></text>
<text class="t" transform="scale(0.88,1)" y="104" fill="#696969" stroke="#696969"><tspan class="m" x="918.32 924">NW</tspan></text>
<rect x="806" y="55" width="1" height="1" fill="#696969"/>
<text class="t" transform="scale(0.88,1)" y="58" fill="#696969" stroke="#696969"><tspan class="s" x="918.58 924.26 929.94">360</tspan></text>
<text class="t" transform="scale(0.88,1)" y="66" fill="#696969" stroke="#696969"><tspan class="m" x="924">N</tspan></text>
<text class="t" transform="scale(0.88,1)" y="46.5" fill="#696969" stroke="#696969"><tspan class="m" x="918.32">°</tspan></text>
<rect x="825" y="40" width="1" height="327" fill="#000000"/>
<rect x="823" y="365" width="4" height="1" fill="#000000"/>
<text class="t" transform="scale(0.88,1)" y="368" fill="#000000" stroke="#000000"><tspan class="s" x="941.3">0</tspan></text>
<rect x="823" y="313" width="4" height="1" fill="#000000"/>
<text class="t" transform="scale(0.88,1)" y="316" fill="#000000" stroke="#000000"><tspan class="s" x="941.3">1</tspan></text>
<rect x="823" y="261" width="4" height="1" fill="#000000"/>
<text class="t" transform="scale(0.88,1)" y="264" fill="#000000" stroke="#000000"><tspan class="s" x="941.3">2</tspan></text>
<rect x="823" y="210" width="4" height="1" fill="#000000"/>
<text class="t" transform="scale(0.88,1)" y="213" fill="#000000" stroke="#000000"><tspan class="s" x="941.3">3</tspan></text>
<rect x="823" y="158" width="4" height="1" fill="#000000"/>
<text class="t" transform="scale(0.88,1)" y="161" fill="#000000" stroke="#000000"><tspan class="s" x="941.3">4</tspan></text>
<rect x="823" y="106" width="4" height="1" fill="#000000"/>
<text class="t" transform="scale(0.88,1)" y="109" fill="#000000" stroke="#000000"><tspan class="s" x="941.3">5</tspan></text>
<rect x="823" y="55" width="4" height="1" fill="#000000"/>
<text class="t" transform="scale(0.88,1)" y="58" fill="#000000" stroke="#000000"><tspan class="s" x="941.3">6</tspan></text>
<text class="t" transform="scale(0.88,1)" y="47" fill="#000000" stroke="#000000"><tspan class="m" x="941.05 946.73 952.41">m/s</tspan></text>
<rect x="845" y="40" width="1" height="327" fill="#00bfff"/>
<rect x="843" y="365" width="4" height="1" fill="#00bfff"/>
<text class="t" transform="scale(0.88,1)" y="368" fill="#00bfff" stroke="#00bfff"><tspan class="s" x="964.03">0</tspan></text>
<rect x="843" y="313" width="4" height="1" fill="#00bfff"/>
<text class="t" transform="scale(0.88,1)" y="316" fill="#00bfff" stroke="#00bfff"><tspan class="s" x="964.03">1</tspan></text>
<rect x="843" y="261" width="4" height="1" fill="#00bfff"/>
<text class="t" transform="scale(0.88,1)" y="264" fill="#00bfff" stroke="#00bfff"><tspan class="s" x="964.03">2</tspan></text>
<rect x="843" y="210" width="4" height="1" fill="#00bfff"/>
<text class="t" transform="scale(0.88,1)" y="213" fill="#00bfff" stroke="#00bfff"><tspan class="s" x="964.03">3</tspan></text>
<rect x="843" y="158" width="4" height="1" fill="#00bfff"/>
<text class="t" transform="scale(0.88,1)" y="161" fill="#00bfff" stroke="#00bfff"><tspan class="s" x="964.03">4</tspan></text>
<rect x="843" y="106" width="4" height="1" fill="#00bfff"/>
<text class="t" transform="scale(0.88,1)" y="109" fill="#00bfff" stroke="#00bfff"><tspan class="s" x="964.03">5</tspan></text>
<rect x="843" y="55" width="4" height="1" fill="#00bfff"/>
<text class="t" transform="scale(0.88,1)" y="58" fill="#00bfff" stroke="#00bfff"><tspan class="s" x="964.03">6</tspan></text>
<text class="t" transform="scale(0.88,1)" y="47" fill="#00bfff" stroke="#00bfff"><tspan class="m" x="963.78 969.46">mm</tspan></text>
<rect x="860" y="40" width="1" height="327" fill="#ffff00"/>
<rect x="858" y="365" width="4" height="1" fill="#ffff00"/>
<text class="t" transform="scale(0.88,1)" y="368" fill="#ffff00" stroke="#ffff00"><tspan class="s" x="981.08">0</tspan></text>
<rect x="858" y="303" width="4" height="1" fill="#ffff00"/>
<text class="t" transform="scale(0.88,1)" y="306" fill="#ffff00" stroke="#ffff00"><tspan class="s" x="981.08">1</tspan></text>
<rect x="858" y="241" width="4" height="1" fill="#ffff00"/>
<text class="t" transform="scale(0.88,1)" y="244" fill="#ffff00" stroke="#ffff00"><tspan class="s" x="981.08">2</tspan></text>
<rect x="858" y="179" width="4" height="1" fill="#ffff00"/>
<text class="t" transform="scale(0.88,1)" y="182" fill="#ffff00" stroke="#ffff00"><tspan class="s" x="981.08">3</tspan></text>
<rect x="858" y="117" width="4" height="1" fill="#ffff00"/>
<text class="t" transform="scale(0.88,1)" y="120" fill="#ffff00" stroke="#ffff00"><tspan class="s" x="981.08">4</tspan></text>
<rect x="858" y="55" width="4" height="1" fill="#ffff00"/>
<text class="t" transform="scale(0.88,1)" y="58" fill="#ffff00" stroke="#ffff00"><tspan class="s" x="981.08">5</tspan></text>
<rect x="875" y="40" width="1" height="327" fill="#ff7f00"/>
<rect x="873" y="365" width="4" height="1" fill="#ff7f00"/>
<text class="t" transform="scale(0.88,1)" y="368" fill="#ff7f00" stroke="#ff7f00"><tspan class="s" x="998.12">0</tspan></text>
<rect x="873" y="349" width="4" height="1" fill="#ff7f00"/>
<text class="t" transform="scale(0.88,1)" y="352" fill="#ff7f00" stroke="#ff7f00"><tspan class="s" x="998.12 1003.8 1009.49">150</tspan></text>
<rect x="873" y="334" width="4" height="1" fill="#ff7f00"/>
<text class="t" transform="scale(0.88,1)" y="337" fill="#ff7f00" stroke="#ff7f00"><tspan class="s" x="998.12 1003.8 1009.49">300</tspan></text>
<rect x="873" y="318" width="4" height="1" fill="#ff7f00"/>
<text class="t" transform="scale(0.88,1)" y="321" fill="#ff7f00" stroke="#ff7f00"><tspan class="s" x="998.12 1003.8 1009.49">450</tspan></text>
<rect x="873" y="303" width="4" height="1" fill="#ff7f00"/>
<text class="t" transform="scale(0.88,1)" y="306" fill="#ff7f00" stroke="#ff7f00"><tspan class="s" x="998.12 1003.8 1009.49">600</tspan></text>
<rect x="873" y="287" width="4" height="1" fill="#ff7f00"/>
<text class="t" transform="scale(0.88,1)" y="290" fill="#ff7f00" stroke="#ff7f00"><tspan class="s" x="998.12 1003.8 1009.49">750</tspan></text>
<rect x="873" y="272" width="4" height="1" fill="#ff7f00"/>
<text class="t" transform="scale(0.88,1)" y="275" fill="#ff7f00" stroke="#ff7f00"><tspan class="s" x="998.12 1003.8 1009.49">900</tspan></text>
<rect x="873" y="256" width="4" height="1" fill="#ff7f00"/>
<text class="t" transform="scale(0.88,1)" y="259" fill="#ff7f00" stroke="#ff7f00"><tspan class="s" x="998.12 1003.8 1009.49 1015.17">1050</tspan></text>
<rect x="873" y="241" width="4" height="1" fill="#ff7f00"/>
<text class="t" transform="scale(0.88,1)" y="244" fill="#ff7f00" stroke="#ff7f00"><tspan class="s" x="998.12 1003.8 1009.49 1015.17">1200</tspan></text>
<rect x="873" y="225" width="4" height="1" fill="#ff7f00"/>
<text class="t" transform="scale(0.88,1)" y="228" fill="#ff7f00" stroke="#ff7f00"><tspan class="s" x="998.12 1003.8 1009.49 1015.17">1350</tspan></text>
<rect x="873" y="210" width="4" height="1" fill="#ff7f00"/>
<text class="t" transform="scale(0.88,1)" y="213" fill="#ff7f00" stroke="#ff7f00"><tspan class="s" x="998.12 1003.8 1009.49 1015.17">1500</tspan></text>
<text class="t" transform="scale(0.88,1)" y="47" fill="#ff7f00" stroke="#ff7f00"><tspan class="m" x="997.87">W</tspan></text>
<rect x="70" y="365" width="736" height="1" fill="#000000"/>
<text class="t" transform="translate(73,397) rotate(-90) scale(0.88,1)" y="0" fill="#000000" stroke="#000000"><tspan class="s" x="0.39 6.08 12.98 17.44 23.12">00:00</tspan></text>
<rect x="85" y="367" width="1" height="1" fill="#000000"/>
<text class="t" transform="translate(88,397) rotate(-90) scale(0.88,1)" y="0" fill="#000000" stroke="#000000"><tspan class="s" x="0.39 6.08 12.98 17.44 23.12">00:30</tspan></text>
<rect x="100" y="367" width="1" height="1" fill="#000000"/>
<text class="t" transform="translate(103,397) rotate(-90) scale(0.88,1)" y="0" fill="#000000" stroke="#000000"><tspan class="s" x="0.39 6.08 12.98 17.44 23.12">01:00</tspan></text>
<rect x="116" y="367" width="1" height="1" fill="#000000"/>
<text class="t" transform="translate(119,397) rotate(-90) scale(0.88,1)" y="0" fill="#000000" stroke="#000000"><tspan class="s" x="0.39 6.08 12.98 17.44 23.12">01:30</tspan></text>
<rect x="131" y="367" width="1" height="1" fill="#000000"/>
<text class="t" transform="translate(134,397) rotate(-90) scale(0.88,1)" y="0" fill="#000000" stroke="#000000"><tspan class="s" x="0.39 6.08 12.98 17.44 23.12">02:00</tspan></text>
<rect x="146" y="367" width="1" height="1" fill="#000000"/>
<text class="t" transform="translate(149,397) rotate(-90) scale(0.88,1)" y="0" fill="#000000" stroke="#000000"><tspan class="s" x="0.39 6.08 12.98 17.44 23.12">02:30</tspan></text>
<rect x="162" y="367" width="1" height="1" fill="#000000"/>
<text class="t" transform="translate(165,397) rotate(-90) scale(0.88,1)" y="0" fill="#000000" stroke="#000000"><tspan class="s" x="0.39 6.08 12.98 17.44 23.12">03:00</tspan></text>
<rect x="177" y="367" width="1" height="1" fill="#000000"/>
<text class="t" transform="translate(180,397) rotate(-90) scale(0.88,1)" y="0" fill="#000000" stroke="#000000"><tspan class="s" x="0.39 6.08 12.98 17.44 23.12">03:30</tspan></text>
<rect x="192" y="367" width="1" height="1" fill="#000000"/>
<text class="t" transform="translate(195,397) rotate(-90) scale(0.88,1)" y="0" fill="#000000" stroke="#000000"><tspan class="s" x="0.39 6.08 12.98 17.44 23.12">04:00</tspan></text>
<rect x="208" y="367" width="1" height="1" fill="#000000"/>
<text class="t" transform="translate(211,397) rotate(-90) scale(0.88,1)" y="0" fill="#000000" stroke="#000000"><tspan class="s" x="0.39 6.08 12.98 17.44 23.12">04:30</tspan></text>
<rect x="223" y="367" width="1" height="1" fill="#000000"/>
<text class="t" transform="translate(226,397) rotate(-90) scale(0.88,1)" y="0" fill="#000000" stroke="#000000"><tspan class="s" x="0.39 6.08 12.98 17.44 23.12">05:00</tspan></text>
<rect x="239" y="367" width="1" height="1" fill="#000000"/>
<text class="t" transform="translate(242,397) rotate(-90) scale(0.88,1)" y="0" fill="#000000" stroke="#000000"><tspan class="s" x="0.39 6.08 12.98 17.44 23.12">05:30</tspan></text>
<rect x="254" y="367" width="1" height="1" fill="#000000"/>
<text class="t" transform="translate(257,397) rotate(-90) scale(0.88,1)" y="0" fill="#000000" stroke="#000000"><tspan class="s" x="0.39 6.08 12.98 17.44 23.12">06:00</tspan></text>
<rect x="269" y="367" width="1" height="1" fill="#000000"/>
<text class="t" transform="translate(272,397) rotate(-90) scale(0.88,1)" y="0" fill="#000000" stroke="#000000"><tspan class="s" x="0.39 6.08 12.98 17.44 23.12">06:30</tspan></text>
<rect x="285" y="367" width="1" height="1" fill="#000000"/>
<text class="t" transform="translate(288,397) rotate(-90) scale(0.88,1)" y="0" fill="#000000" stroke="#000000"><tspan class="s" x="0.39 6.08 12.98 17.44 23.12">07:00</tspan></text>
<rect x="300" y="367" width="1" height="1" fill="#000000"/>
<text class="t" transform="translate(303,397) rotate(-90) scale(0.88,1)" y="0" fill="#000000" stroke="#000000"><tspan class="s" x="0.39 6.08 12.98 17.44 23.12">07:30</tspan></text>
<rect x="315" y="367" width="1" height="1" fill="#000000"/>
<text class="t" transform="translate(318,397) rotate(-90) scale(0.88,1)" y="0" fill="#000000" stroke="#000000"><tspan class="s" x="0.39 6.08 12.98 17.44 23.12">08:00</tspan></text>
<rect x="331" y="367" width="1" height="1" fill="#000000"/>
<text class="t" transform="translate(334,397) rotate(-90) scale(0.88,1)" y="0" fill="#000000" stroke="#000000"><tspan class="s" x="0.39 6.08 12.98 17.44 23.12">08:30</tspan></text>
<rect x="346" y="367" width="1" height="1" fill="#000000"/>
<text class="t" transform="translate(349,397) rotate(-90) scale(0.88,1)" y="0" fill="#000000" stroke="#000000"><tspan class="s" x="0.39 6.08 12.98 17.44 23.12">09:00</tspan></text>
<rect x="361" y="367" width="1" height="1" fill="#000000"/>
<text class="t" transform="translate(364,397) rotate(-90) scale(0.88,1)" y="0" fill="#000000" stroke="#000000"><tspan class="s" x="0.39 6.08 12.98 17.44 23.12">09:30</tspan></text>
<rect x="377" y="367" width="1" height="1" fill="#000000"/>
<text class="t" transform="translate(380,397) rotate(-90) scale(0.88,1)" y="0" fill="#000000" stroke="#000000"><tspan class="s" x="0.39 6.08 12.98 17.44 23.12">10:00</tspan></text>
<rect x="392" y="367" width="1" height="1" fill="#000000"/>
<text class="t" transform="translate(395,397) rotate(-90) scale(0.88,1)" y="0" fill="#000000" stroke="#000000"><tspan class="s" x="0.39 6.08 12.98 17.44 23.12">10:30</tspan></text>
<rect x="408" y="367" width="1" height="1" fill="#000000"/>
<text class="t" transform="translate(411,397) rotate(-90) scale(0.88,1)" y="0" fill="#000000" stroke="#000000"><tspan class="s" x="0.39 6.08 12.98 17.44 23.12">11:00</tspan></text>
<rect x="423" y="367" width="1" height="1" fill="#000000"/>
<text class="t" transform="translate(426,397) rotate(-90) scale(0.88,1)" y="0" fill="#000000" stroke="#000000"><tspan class="s" x="0.39 6.08 12.98 17.44 23.12">11:30</tspan></text>
<rect x="438" y="367" width="1" height="1" fill="#000000"/>
<text class="t" transform="translate(441,397) rotate(-90) scale(0.88,1)" y="0" fill="#000000" stroke="#000000"><tspan class="s" x="0.39 6.08 12.98 17.44 23.12">12:00</tspan></text>
<rect x="454" y="367" width="1" height="1" fill="#000000"/>
<text class="t" transform="translate(457,397) rotate(-90) scale(0.88,1)" y="0" fill="#000000" stroke="#000000"><tspan class="s" x="0.39 6.08 12.98 17.44 23.12">12:30</tspan></text>
<rect x="469" y="367" width="1" height="1" fill="#000000"/>
<text class="t" transform="translate(472,397) rotate(-90) scale(0.88,1)" y="0" fill="#000000" stroke="#000000"><tspan class="s" x="0.39 6.08 12.98 17.44 23.12">13:00</tspan></text>
<rect x="484" y="367" width="1" height="1" fill="#000000"/>
<text class="t" transform="translate(487,397) rotate(-90) scale(0.88,1)" y="0" fill="#000000" stroke="#000000"><tspan class="s" x="0.39 6.08 12.98 17.44 23.12">13:30</tspan></text>
<rect x="500" y="367" width="1" height="1" fill="#000000"/>
<text class="t" transform="translate(503,397) rotate(-90) scale(0.88,1)" y="0" fill="#000000" stroke="#000000"><tspan class="s" x="0.39 6.08 12.98 17.44 23.12">14:00</tspan></text>
<rect x="515" y="367" width="1" height="1" fill="#000000"/>
<text class="t" transform="translate(518,397) rotate(-90) scale(0.88,1)" y="0" fill="#000000" stroke="#000000"><tspan class="s" x="0.39 6.08 12.98 17.44 23.12">14:30</tspan></text>
<rect x="530" y="367" width="1" height="1" fill="#000000"/>
<text class="t" transform="translate(533,397) rotate(-90) scale(0.88,1)" y="0" fill="#000000" stroke="#000000"><tspan class="s" x="0.39 6.08 12.98 17.44 23.12">15:00</tspan></text>
<rect x="546" y="367" width="1" height="1" fill="#000000"/>
<text class="t" transform="translate(549,397) rotate(-90) scale(0.88,1)" y="0" fill="#000000" stroke="#000000"><tspan class="s" x="0.39 6.08 12.98 17.44 23.12">15:30</tspan></text>
<rect x="561" y="367" width="1" height="1" fill="#000000"/>
<text class="t" transform="translate(564,397) rotate(-90) scale(0.88,1)" y="0" fill="#000000" stroke="#000000"><tspan class="s" x="0.39 6.08 12.98 17.44 23.12">16:00</tspan></text>
<rect x="577" y="367" width="1" height="1" fill="#000000"/>
<text class="t" transform="translate(580,397) rotate(-90) scale(0.88,1)" y="0" fill="#000000" stroke="#000000"><tspan class="s" x="0.39 6.08 12.98 17.44 23.12">16:30</tspan></text>
<rect x="592" y="367" width="1" height="1" fill="#000000"/>
<text class="t" transform="translate(595,397) rotate(-90) scale(0.88,1)" y="0" fill="#000000" stroke="#000000"><tspan class="s" x="0.39 6.08 12.98 17.44 23.12">17:00</tspan></text>
<rect x="607" y="367" width="1" height="1" fill="#000000"/>
<text class="t" transform="translate(610,397) rotate(-90) scale(0.88,1)" y="0" fill="#000000" stroke="#000000"><tspan class="s" x="0.39 6.08 12.98 17.44 23.12">17:30</tspan></text>
<rect x="623" y="367" width="1" height="1" fill="#000000"/>
<text class="t" transform="translate(626,397) rotate(-90) scale(0.88,1)" y="0" fill="#000000" stroke="#000000"><tspan class="s" x="0.39 6.08 12.98 17.44 23.12">18:00</tspan></text>
<rect x="638" y="367" width="1" height="1" fill="#000000"/>
<text class="t" transform="translate(641,397) rotate(-90) scale(0.88,1)" y="0" fill="#000000" stroke="#000000"><tspan class="s" x="0.39 6.08 12.98 17.44 23.12">18:30</tspan></text>
<rect x="653" y="367" width="1" height="1" fill="#000000"/>
<text class="t" transform="translate(656,397) rotate(-90) scale(0.88,1)" y="0" fill="#000000" stroke="#000000"><tspan class="s" x="0.39 6.08 12.98 17.44 23.12">19:00</tspan></text>
<rect x="669" y="367" width="1" height="1" fill="#000000"/>
<text class="t" transform="translate(672,397) rotate(-90) scale(0.88,1)" y="0" fill="#000000" stroke="#000000"><tspan class="s" x="0.39 6.08 12.98 17.44 23.12">19:30</tspan></text>
<rect x="684" y="367" width="1" height="1" fill="#000000"/>
<text class="t" transform="translate(687,397) rotate(-90) scale(0.88,1)" y="0" fill="#000000" stroke="#000000"><tspan class="s" x="0.39 6.08 12.98 17.44 23.12">20:00</tspan></text>
<rect x="700" y="367" width="1" height="1" fill="#000000"/>
<text class="t" transform="translate(703,397) rotate(-90) scale(0.88,1)" y="0" fill="#000000" stroke="#000000"><tspan class="s" x="0.39 6.08 12.98 17.44 23.12">20:30</tspan></text>
<rect x="715" y="367" width="1" height="1" fill="#000000"/>
<text class="t" transform="translate(718,397) rotate(-90) scale(0.88,1)" y="0" fill="#000000" stroke="#000000"><tspan class="s" x="0.39 6.08 12.98 17.44 23.12">21:00</tspan></text>
<rect x="730" y="367" width="1" height="1" fill="#000000"/>
<text class="t" transform="translate(733,397) rotate(-90) scale(0.88,1)" y="0" fill="#000000" stroke="#000000"><tspan class="s" x="0.39 6.08 12.98 17.44 23.12">21:30</tspan></text>
<rect x="746" y="367" width="1" height="1" fill="#000000"/>
<text class="t" transform="translate(749,397) rotate(-90) scale(0.88,1)" y="0" fill="#000000" stroke="#000000"><tspan class="s" x="0.39 6.08 12.98 17.44 23.12">22:00</tspan></text>
<rect x="761" y="367" width="1" height="1" fill="#000000"/>
<text class="t" transform="translate(764,397) rotate(-90) scale(0.88,1)" y="0" fill="#000000" stroke="#000000"><tspan class="s" x="0.39 6.08 12.98 17.44 23.12">22:30</tspan></text>
<rect x="776" y="367" width="1" height="1" fill="#000000"/>
<text class="t" transform="translate(779,397) rotate(-90) scale(0.88,1)" y="0" fill="#000000" stroke="#000000"><tspan class="s" x="0.39 6.08 12.98 17.44 23.12">23:00</tspan></text>
<rect x="792" y="367" width="1" height="1" fill="#000000"/>
<text class="t" transform="translate(795,397) rotate(-90) scale(0.88,1)" y="0" fill="#000000" stroke="#000000"><tspan class="s" x="0.39 6.08 12.98 17.44 23.12">23:30</tspan></text>
<text class="t" transform="scale(0.88,1)" y="377" fill="#000000" stroke="#000000" font-style="italic"><tspan class="m" x="925.71 931.39 937.07">čas</tspan></text>
</g>
<g id="legend">
<rect x="10" y="9" width="11" height="2" fill="#ff0000"/>
<text class="t" transform="scale(0.88,1)" y="12" fill="#000000" stroke="#000000"><tspan class="m" x="28.55 34.23 39.91 45.6 51.28 56.96 62.64">Teplota</tspan></text>
<rect x="70" y="9" width="11" height="2" fill="#ff00ff"/>
<text class="t" transform="scale(0.88,1)" y="12" fill="#000000" stroke="#000000"><tspan class="m" x="96.73 102.41 108.1 113.78 119.46 125.14 130.82 136.5">Přízemní</tspan><tspan class="m" x="147.87 153.55 159.23 164.91 170.6 176.28 181.96">teplota</tspan></text>
<rect x="175" y="9" width="11" height="2" fill="#9400d3"/>
<text class="t" transform="scale(0.88,1)" y="12" fill="#000000" stroke="#000000"><tspan class="m" x="216.05 221.73 227.41 233.1 238.78 244.46 250.14">Vlhkost</tspan></text>
<rect x="235" y="9" width="11" height="2" fill="#228b22"/>
<text class="t" transform="scale(0.88,1)" y="12" fill="#000000" stroke="#000000"><tspan class="m" x="284.23 289.91 295.6 301.28">Tlak</tspan></text>
<rect x="280" y="9" width="11" height="2" fill="#00bfff"/>
<text class="t" transform="scale(0.88,1)" y="12" fill="#000000" stroke="#000000"><tspan class="m" x="335.37 341.05 346.73 352.41 358.1 363.78">Srážky</tspan></text>
<rect x="335" y="9" width="11" height="2" fill="#000000"/>
<text class="t" transform="scale(0.88,1)" y="12" fill="#000000" stroke="#000000"><tspan class="m" x="397.87 403.55 409.23 414.91 420.6 426.28 431.96 437.64">Rychlost</tspan><tspan class="m" x="449 454.69 460.37 466.05 471.73">větru</tspan></text>
<rect x="430" y="9" width="11" height="2" fill="#0000cd"/>
<text class="t" transform="scale(0.88,1)" y="12" fill="#000000" stroke="#000000"><tspan class="m" x="505.82 511.5 517.19 522.87 528.55">Náraz</tspan><tspan class="m" x="539.91 545.6 551.28 556.96 562.64">větru</tspan></text>
<rect x="510" y="9" width="11" height="2" fill="#696969"/>
<text class="t" transform="scale(0.88,1)" y="12" fill="#000000" stroke="#000000"><tspan class="m" x="596.73 602.41 608.1 613.78">Směr</tspan><tspan class="m" x="625.14 630.82 636.5 642.19 647.87">větru</tspan></text>
<rect x="585" y="9" width="11" height="2" fill="#ffff00"/>
<text class="t" transform="scale(0.88,1)" y="12" fill="#ffff00" stroke="#ffff00"><tspan class="m" x="681.96 687.64">UV</tspan><tspan class="m" x="699 704.69 710.37 716.05 721.73">index</tspan></text>
<rect x="650" y="9" width="11" height="2" fill="#ff7f00"/>
<text class="t" transform="scale(0.88,1)" y="12" fill="#ff7f00" stroke="#ff7f00"><tspan class="m" x="755.82 761.5 767.19 772.87 778.55">Solar</tspan></text>
</g>
<g id="info">
<text class="t" transform="scale(0.88,1)" y="27" fill="#000000" stroke="#000000"><tspan class="m" x="91.05 96.73 102.41">max</tspan></text>
<text class="t" transform="scale(0.88,1)" y="27" fill="#ff0000" stroke="#ff0000"><tspan class="m" x="113.78">-</tspan><tspan class="s" x="119.71 126.62 131.08">0.5</tspan><tspan class="m" x="136.5 142.19">°C</tspan></text>
<text class="t" transform="scale(0.88,1)" y="27" fill="#ff0000" stroke="#ff0000"><tspan class="s" x="159.49 165.17">94</tspan><tspan class="m" x="170.6">%</tspan></text>
<text class="t" transform="scale(0.88,1)" y="27" fill="#ff0000" stroke="#ff0000"><tspan class="s" x="187.89 193.58 199.26 204.94 211.84 216.3">1021.2</tspan><tspan class="m" x="221.73 227.41 233.1">hPa</tspan></text>
<text class="t" transform="scale(0.88,1)" y="27" fill="#00bfff" stroke="#00bfff"><tspan class="s" x="256.08 262.98 267.44">2.5</tspan><tspan class="m" x="272.87 278.55">mm</tspan></text>
<text class="t" transform="scale(0.88,1)" y="37" fill="#000000" stroke="#000000"><tspan class="m" x="91.05 96.73 102.41">min</tspan></text>
<text class="t" transform="scale(0.88,1)" y="37" fill="#0000cd" stroke="#0000cd"><tspan class="m" x="113.78">-</tspan><tspan class="s" x="119.71 126.62 131.08">4.6</tspan><tspan class="m" x="136.5 142.19">°C</tspan></text>
<text class="t" transform="scale(0.88,1)" y="37" fill="#0000cd" stroke="#0000cd"><tspan class="s" x="159.49 165.17">84</tspan><tspan class="m" x="170.6">%</tspan></text>
<text class="t" transform="scale(0.88,1)" y="37" fill="#0000cd" stroke="#0000cd"><tspan class="s" x="187.89 193.58 199.26 204.94 211.84 216.3">1010.7</tspan><tspan class="m" x="221.73 227.41 233.1">hPa</tspan></text>
<text class="t" transform="scale(0.88,1)" y="47" fill="#000000" stroke="#000000"><tspan class="m" x="91.05 96.73 102.41">avg</tspan></text>
<text class="t" transform="scale(0.88,1)" y="47" fill="#000000" stroke="#000000"><tspan class="m" x="113.78">-</tspan><tspan class="s" x="119.71 126.62 131.08">2.4</tspan><tspan class="m" x="136.5 142.19">°C</tspan></text>
<text class="t" transform="scale(0.88,1)" y="27" fill="#000000" stroke="#000000"><tspan class="m" x="567.19 572.87">WS</tspan><tspan class="s" x="580.03 584.49 591.39 595.85">:1.3</tspan><tspan class="m" x="601.28 606.96 612.64">m/s</tspan></text>
<text class="t" transform="scale(0.88,1)" y="27" fill="#000000" stroke="#000000"><tspan class="m" x="646.73 652.41">WG</tspan><tspan class="s" x="659.57 664.03 670.94 675.39">:2.2</tspan><tspan class="m" x="680.82 686.5 692.19">m/s</tspan></text>
<text class="t" transform="scale(0.88,1)" y="37" fill="#000000" stroke="#000000"><tspan class="m" x="567.19 572.87 578.55 584.23 589.91 595.6">Východ</tspan><tspan class="s" x="602.75 607.21 612.89 619.8 624.26 629.94">:07:30</tspan></text>
<text class="t" transform="scale(0.88,1)" y="37" fill="#000000" stroke="#000000"><tspan class="m" x="646.73 652.41 658.1 663.78 669.46">Západ</tspan><tspan class="s" x="676.62 681.08 686.76 693.66 698.12 703.8">:16:44</tspan></text>
<text class="h" x="414.2" y="51" fill="#000000" stroke="#000000">28.01.2013</text>
</g>
<rect x="0" y="0" width="900" height="1" fill="#000"/><rect x="0" y="399" width="900" height="1" fill="#000"/>
<rect x="0" y="0" width="1" height="400" fill="#000"/><rect x="899" y="0" width="1" height="400" fill="#000"/>
</svg>
</body>
</html>
